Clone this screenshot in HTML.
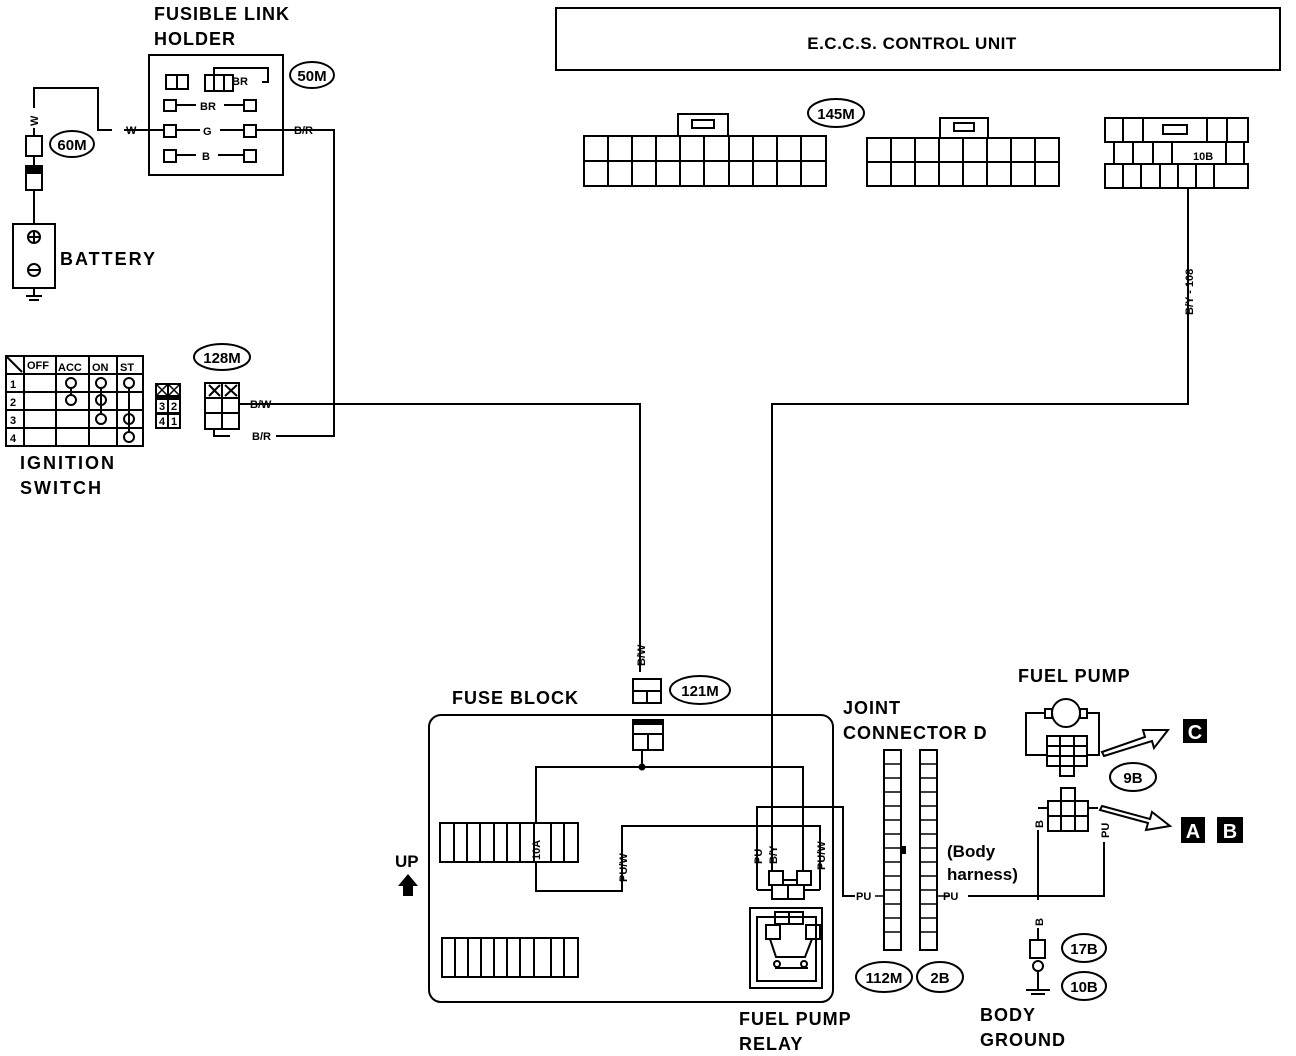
<!DOCTYPE html>
<html><head><meta charset="utf-8"><style>
html,body{margin:0;padding:0;background:#fff;}
svg{display:block;}
text{font-family:"Liberation Sans",sans-serif;font-weight:bold;fill:#000;}
</style></head><body>
<svg width="1296" height="1056" viewBox="0 0 1296 1056" xmlns="http://www.w3.org/2000/svg">
<g fill="none" stroke="#000" stroke-width="2">
<rect x="556" y="8" width="724" height="62"/>
<rect x="678" y="114" width="50" height="22"/><rect x="692" y="120" width="22" height="8"/>
<rect x="584" y="136" width="242" height="50"/>
<line x1="584" y1="161" x2="826" y2="161"/>
<rect x="940" y="118" width="48" height="20"/><rect x="954" y="123" width="20" height="8"/>
<rect x="867" y="138" width="192" height="48"/>
<line x1="867" y1="162" x2="1059" y2="162"/>
<rect x="1105" y="118" width="143" height="24"/>
<rect x="1163" y="125" width="24" height="9"/>
<rect x="1114" y="142" width="130" height="22"/>
<rect x="1105" y="164" width="143" height="24"/>
<polyline points="1188,188 1188,404 772,404 772,872"/>
<polyline points="242,404 640,404 640,672"/>
<polyline points="258,130 334,130 334,436 276,436"/>
<polyline points="230,436 214,436 214,428"/>
<polyline points="140,130 124,130"/>
<polyline points="112,130 98,130 98,88 34,88 34,108"/>
<line x1="34" y1="128" x2="34" y2="136"/>
<line x1="34" y1="156" x2="34" y2="166"/>
<line x1="34" y1="190" x2="34" y2="224"/>
<rect x="149" y="55" width="134" height="120"/>
<rect x="166" y="75" width="22" height="14"/><line x1="177" y1="75" x2="177" y2="89"/>
<rect x="205" y="75" width="28" height="16"/><line x1="214" y1="75" x2="214" y2="91"/><line x1="224" y1="75" x2="224" y2="91"/>
<polyline points="214,75 214,68 268,68 268,82 262,82"/>
<rect x="164" y="100" width="12" height="11"/><rect x="244" y="100" width="12" height="11"/>
<line x1="176" y1="105" x2="196" y2="105"/><line x1="224" y1="105" x2="244" y2="105"/>
<rect x="164" y="125" width="12" height="12"/><rect x="244" y="125" width="12" height="12"/>
<line x1="176" y1="130" x2="200" y2="130"/><line x1="220" y1="130" x2="244" y2="130"/>
<line x1="140" y1="130" x2="164" y2="130"/><line x1="256" y1="130" x2="290" y2="130"/>
<rect x="164" y="150" width="12" height="12"/><rect x="244" y="150" width="12" height="12"/>
<line x1="176" y1="155" x2="196" y2="155"/><line x1="218" y1="155" x2="244" y2="155"/>
<rect x="26" y="136" width="16" height="20"/>
<rect x="26" y="166" width="16" height="24"/>
<rect x="13" y="224" width="42" height="64"/>
<circle cx="34" cy="237" r="6"/><circle cx="34" cy="270" r="6"/>
<line x1="29" y1="237" x2="39" y2="237"/><line x1="34" y1="232" x2="34" y2="242"/>
<line x1="29" y1="270" x2="39" y2="270"/>
<line x1="34" y1="288" x2="34" y2="296"/><line x1="26" y1="296" x2="42" y2="296"/><line x1="29" y1="300" x2="39" y2="300"/>
<ellipse cx="312" cy="75" rx="22" ry="13"/>
<ellipse cx="72" cy="144" rx="22" ry="13"/>
<ellipse cx="222" cy="357" rx="28" ry="13"/>
<ellipse cx="836" cy="113" rx="28" ry="14"/>
<ellipse cx="700" cy="690" rx="30" ry="14"/>
<ellipse cx="884" cy="977" rx="28" ry="15"/>
<ellipse cx="940" cy="977" rx="23" ry="15"/>
<ellipse cx="1133" cy="777" rx="23" ry="14"/>
<ellipse cx="1084" cy="948" rx="22" ry="14"/>
<ellipse cx="1084" cy="986" rx="22" ry="14"/>
<rect x="6" y="356" width="137" height="90"/>
<line x1="6" y1="374" x2="143" y2="374"/><line x1="6" y1="392" x2="143" y2="392"/><line x1="6" y1="410" x2="143" y2="410"/><line x1="6" y1="428" x2="143" y2="428"/>
<line x1="24" y1="356" x2="24" y2="446"/><line x1="56" y1="356" x2="56" y2="446"/><line x1="89" y1="356" x2="89" y2="446"/><line x1="117" y1="356" x2="117" y2="446"/>
<line x1="6" y1="356" x2="22" y2="372"/>
<circle cx="71" cy="383" r="5"/><circle cx="71" cy="400" r="5"/><line x1="71" y1="388" x2="71" y2="395"/>
<circle cx="101" cy="383" r="5"/><circle cx="101" cy="400" r="5"/><circle cx="101" cy="419" r="5"/><line x1="101" y1="388" x2="101" y2="414"/>
<circle cx="129" cy="383" r="5"/><circle cx="129" cy="419" r="5"/><circle cx="129" cy="437" r="5"/><line x1="129" y1="388" x2="129" y2="432"/>
<rect x="205" y="383" width="34" height="46"/>
<line x1="222" y1="383" x2="222" y2="429"/><line x1="205" y1="398" x2="239" y2="398"/><line x1="205" y1="413" x2="239" y2="413"/>
<line x1="209" y1="385" x2="220" y2="396"/><line x1="220" y1="385" x2="209" y2="396"/>
<line x1="225" y1="385" x2="237" y2="396"/><line x1="237" y1="385" x2="225" y2="396"/>
<line x1="239" y1="404" x2="246" y2="404"/>
<rect x="429" y="715" width="404" height="287" rx="12"/>
<rect x="633" y="679" width="28" height="24"/><line x1="633" y1="691" x2="661" y2="691"/><line x1="647" y1="691" x2="647" y2="703"/>
<rect x="633" y="720" width="30" height="30"/><line x1="633" y1="734" x2="663" y2="734"/><line x1="648" y1="734" x2="648" y2="750"/>
<line x1="642" y1="750" x2="642" y2="767"/>
<polyline points="536,823 536,767 803,767 803,872"/>
<polyline points="536,862 536,891 622,891 622,826 820,826 820,890"/>
<rect x="440" y="823" width="138" height="39"/>
<rect x="442" y="938" width="136" height="39"/>
<polyline points="757,890 757,807 843,807 843,896 855,896"/>
<polyline points="757,890 772,890"/><polyline points="804,890 820,890"/>
<rect x="769" y="871" width="14" height="14"/><rect x="797" y="871" width="14" height="14"/>
<rect x="772" y="885" width="16" height="14"/><rect x="788" y="885" width="16" height="14"/>
<line x1="783" y1="880" x2="797" y2="880"/>
<rect x="750" y="908" width="72" height="80"/>
<rect x="757" y="917" width="59" height="64"/>
<rect x="775" y="912" width="14" height="12"/><rect x="789" y="912" width="14" height="12"/>
<rect x="766" y="925" width="14" height="14"/><rect x="806" y="925" width="14" height="14"/>
<polyline points="770,939 776,957 805,957 812,939"/>
<line x1="775" y1="968" x2="808" y2="968"/>
<circle cx="777" cy="964" r="3"/><circle cx="804" cy="964" r="3"/>
<rect x="884" y="750" width="17" height="200"/>
<rect x="920" y="750" width="17" height="200"/>
<polyline points="968,896 1104,896 1104,842"/>
<line x1="1038" y1="830" x2="1038" y2="900"/>
<line x1="1038" y1="928" x2="1038" y2="940"/>
<rect x="1030" y="940" width="15" height="18"/>
<circle cx="1038" cy="966" r="5"/>
<line x1="1038" y1="971" x2="1038" y2="990"/><line x1="1026" y1="990" x2="1050" y2="990"/><line x1="1031" y1="994" x2="1045" y2="994"/>
<circle cx="1066" cy="713" r="14"/>
<rect x="1045" y="709" width="7" height="9"/><rect x="1080" y="709" width="7" height="9"/>
<polyline points="1045,713 1026,713 1026,755 1047,755"/>
<polyline points="1087,713 1099,713 1099,755 1087,755"/>
<rect x="1047" y="736" width="40" height="30"/>
<line x1="1047" y1="746" x2="1087" y2="746"/><line x1="1047" y1="756" x2="1087" y2="756"/>
<line x1="1060" y1="736" x2="1060" y2="766"/><line x1="1074" y1="736" x2="1074" y2="766"/>
<rect x="1060" y="766" width="14" height="10"/>
<rect x="1048" y="801" width="40" height="30"/>
<line x1="1048" y1="816" x2="1088" y2="816"/><line x1="1061" y1="801" x2="1061" y2="831"/><line x1="1075" y1="801" x2="1075" y2="831"/>
<rect x="1061" y="788" width="14" height="13"/>
<polyline points="1038,808 1048,808"/><polyline points="1088,808 1098,808"/>
<path d="M1102,752 L1145,737 L1143,730 L1168,730 L1154,748 L1152,741 L1104,756 Z"/>
<path d="M1102,806 L1150,819 L1152,812 L1170,826 L1146,830 L1148,823 L1100,810 Z"/>
</g>
<rect x="1183" y="719" width="24" height="24" fill="#000"/>
<rect x="1181" y="817" width="24" height="26" fill="#000"/>
<rect x="1217" y="817" width="26" height="26" fill="#000"/>
<text x="1195" y="739" font-size="20" text-anchor="middle" style="fill:#fff">C</text>
<text x="1193" y="838" font-size="20" text-anchor="middle" style="fill:#fff">A</text>
<text x="1230" y="838" font-size="20" text-anchor="middle" style="fill:#fff">B</text>
<circle cx="642" cy="767" r="3.5" fill="#000"/>
<rect x="633" y="720" width="30" height="5" fill="#000"/>
<rect x="26" y="166" width="16" height="8" fill="#000"/>
<g stroke="#000" stroke-width="2">
<line x1="454" y1="823" x2="454" y2="862"/><line x1="467" y1="823" x2="467" y2="862"/><line x1="480" y1="823" x2="480" y2="862"/><line x1="494" y1="823" x2="494" y2="862"/><line x1="507" y1="823" x2="507" y2="862"/><line x1="520" y1="823" x2="520" y2="862"/><line x1="534" y1="823" x2="534" y2="862"/><line x1="551" y1="823" x2="551" y2="862"/><line x1="564" y1="823" x2="564" y2="862"/>
<line x1="455" y1="938" x2="455" y2="977"/><line x1="468" y1="938" x2="468" y2="977"/><line x1="481" y1="938" x2="481" y2="977"/><line x1="494" y1="938" x2="494" y2="977"/><line x1="507" y1="938" x2="507" y2="977"/><line x1="520" y1="938" x2="520" y2="977"/><line x1="534" y1="938" x2="534" y2="977"/><line x1="551" y1="938" x2="551" y2="977"/><line x1="564" y1="938" x2="564" y2="977"/>
<line x1="608" y1="136" x2="608" y2="186"/><line x1="632" y1="136" x2="632" y2="186"/><line x1="656" y1="136" x2="656" y2="186"/><line x1="680" y1="136" x2="680" y2="186"/><line x1="704" y1="136" x2="704" y2="186"/><line x1="729" y1="136" x2="729" y2="186"/><line x1="753" y1="136" x2="753" y2="186"/><line x1="777" y1="136" x2="777" y2="186"/><line x1="801" y1="136" x2="801" y2="186"/>
<line x1="891" y1="138" x2="891" y2="186"/><line x1="915" y1="138" x2="915" y2="186"/><line x1="939" y1="138" x2="939" y2="186"/><line x1="963" y1="138" x2="963" y2="186"/><line x1="987" y1="138" x2="987" y2="186"/><line x1="1011" y1="138" x2="1011" y2="186"/><line x1="1035" y1="138" x2="1035" y2="186"/>
<line x1="1123" y1="118" x2="1123" y2="142"/><line x1="1143" y1="118" x2="1143" y2="142"/><line x1="1207" y1="118" x2="1207" y2="142"/><line x1="1227" y1="118" x2="1227" y2="142"/>
<line x1="1133" y1="142" x2="1133" y2="164"/><line x1="1153" y1="142" x2="1153" y2="164"/><line x1="1172" y1="142" x2="1172" y2="164"/><line x1="1226" y1="142" x2="1226" y2="164"/>
<line x1="1123" y1="164" x2="1123" y2="188"/><line x1="1141" y1="164" x2="1141" y2="188"/><line x1="1160" y1="164" x2="1160" y2="188"/><line x1="1178" y1="164" x2="1178" y2="188"/><line x1="1196" y1="164" x2="1196" y2="188"/><line x1="1214" y1="164" x2="1214" y2="188"/>
</g>
<g stroke="#000" stroke-width="1.5">
<line x1="884" y1="764" x2="901" y2="764"/><line x1="884" y1="778" x2="901" y2="778"/><line x1="884" y1="792" x2="901" y2="792"/><line x1="884" y1="806" x2="901" y2="806"/><line x1="884" y1="820" x2="901" y2="820"/><line x1="884" y1="834" x2="901" y2="834"/><line x1="884" y1="848" x2="901" y2="848"/><line x1="884" y1="862" x2="901" y2="862"/><line x1="884" y1="876" x2="901" y2="876"/><line x1="884" y1="890" x2="901" y2="890"/><line x1="884" y1="904" x2="901" y2="904"/><line x1="884" y1="918" x2="901" y2="918"/><line x1="884" y1="932" x2="901" y2="932"/>
<line x1="920" y1="764" x2="937" y2="764"/><line x1="920" y1="778" x2="937" y2="778"/><line x1="920" y1="792" x2="937" y2="792"/><line x1="920" y1="806" x2="937" y2="806"/><line x1="920" y1="820" x2="937" y2="820"/><line x1="920" y1="834" x2="937" y2="834"/><line x1="920" y1="848" x2="937" y2="848"/><line x1="920" y1="862" x2="937" y2="862"/><line x1="920" y1="876" x2="937" y2="876"/><line x1="920" y1="890" x2="937" y2="890"/><line x1="920" y1="904" x2="937" y2="904"/><line x1="920" y1="918" x2="937" y2="918"/><line x1="920" y1="932" x2="937" y2="932"/>
<line x1="937" y1="896" x2="950" y2="896"/><line x1="875" y1="896" x2="884" y2="896"/>
</g>
<rect x="901" y="846" width="5" height="8" fill="#000"/>
<!-- ignition key block -->
<rect x="155" y="383" width="26" height="46" fill="#000"/>
<g fill="#fff">
<rect x="157" y="385" width="10" height="10"/><rect x="169" y="385" width="10" height="10"/>
<rect x="157" y="400" width="10" height="12"/><rect x="169" y="400" width="10" height="12"/>
<rect x="157" y="415" width="10" height="12"/><rect x="169" y="415" width="10" height="12"/>
</g>
<g stroke="#000" stroke-width="1.5">
<line x1="157" y1="385" x2="167" y2="395"/><line x1="167" y1="385" x2="157" y2="395"/>
<line x1="169" y1="385" x2="179" y2="395"/><line x1="179" y1="385" x2="169" y2="395"/>
</g>
<path d="M408,874 L398,886 L403,886 L403,896 L413,896 L413,886 L418,886 Z" fill="#000"/>
<text x="912" y="49" font-size="17" text-anchor="middle" letter-spacing="0.5">E.C.C.S. CONTROL UNIT</text>
<text x="154" y="20" font-size="18" letter-spacing="1">FUSIBLE LINK</text>
<text x="154" y="45" font-size="18" letter-spacing="1">HOLDER</text>
<text x="60" y="265" font-size="18" letter-spacing="2">BATTERY</text>
<text x="20" y="469" font-size="18" letter-spacing="2">IGNITION</text>
<text x="20" y="494" font-size="18" letter-spacing="2">SWITCH</text>
<text x="452" y="704" font-size="18" letter-spacing="1">FUSE BLOCK</text>
<text x="395" y="867" font-size="17">UP</text>
<text x="843" y="714" font-size="18" letter-spacing="1">JOINT</text>
<text x="843" y="739" font-size="18" letter-spacing="1">CONNECTOR D</text>
<text x="1018" y="682" font-size="18" letter-spacing="1">FUEL PUMP</text>
<text x="947" y="857" font-size="17">(Body</text>
<text x="947" y="880" font-size="17">harness)</text>
<text x="739" y="1025" font-size="18" letter-spacing="1">FUEL PUMP</text>
<text x="739" y="1050" font-size="18" letter-spacing="1">RELAY</text>
<text x="980" y="1021" font-size="18" letter-spacing="1">BODY</text>
<text x="980" y="1046" font-size="18" letter-spacing="1">GROUND</text>
<g font-size="15" text-anchor="middle">
<text x="312" y="81">50M</text><text x="72" y="150">60M</text><text x="222" y="363">128M</text>
<text x="836" y="119">145M</text><text x="700" y="696">121M</text><text x="884" y="983">112M</text>
<text x="940" y="983">2B</text><text x="1133" y="783">9B</text><text x="1084" y="954">17B</text><text x="1084" y="992">10B</text>
</g>
<g font-size="11">
<text x="126" y="134">W</text><text x="232" y="85">BR</text><text x="200" y="110">BR</text><text x="203" y="135">G</text><text x="202" y="160">B</text>
<text x="294" y="134">B/R</text><text x="250" y="408">B/W</text><text x="252" y="440">B/R</text>
<text x="856" y="900">PU</text><text x="943" y="900">PU</text><text x="1193" y="160">10B</text>
<text x="27" y="369">OFF</text><text x="58" y="371">ACC</text><text x="92" y="371">ON</text><text x="120" y="371">ST</text>
<text x="10" y="388">1</text><text x="10" y="406">2</text><text x="10" y="424">3</text><text x="10" y="442">4</text>
<text x="159" y="410">3</text><text x="171" y="410">2</text><text x="159" y="425">4</text><text x="171" y="425">1</text>
</g>
<g font-size="11">
<text transform="translate(38,126) rotate(-90)">W</text>
<text transform="translate(1193,315) rotate(-90)">B/Y - 108</text>
<text transform="translate(645,666) rotate(-90)">B/W</text>
<text transform="translate(627,882) rotate(-90)">PU/W</text>
<text transform="translate(540,860) rotate(-90)">10A</text>
<text transform="translate(762,864) rotate(-90)">PU</text>
<text transform="translate(777,864) rotate(-90)">B/Y</text>
<text transform="translate(825,870) rotate(-90)">PU/W</text>
<text transform="translate(1043,828) rotate(-90)">B</text>
<text transform="translate(1043,926) rotate(-90)">B</text>
<text transform="translate(1109,838) rotate(-90)">PU</text>
</g>
</svg>
</body></html>
